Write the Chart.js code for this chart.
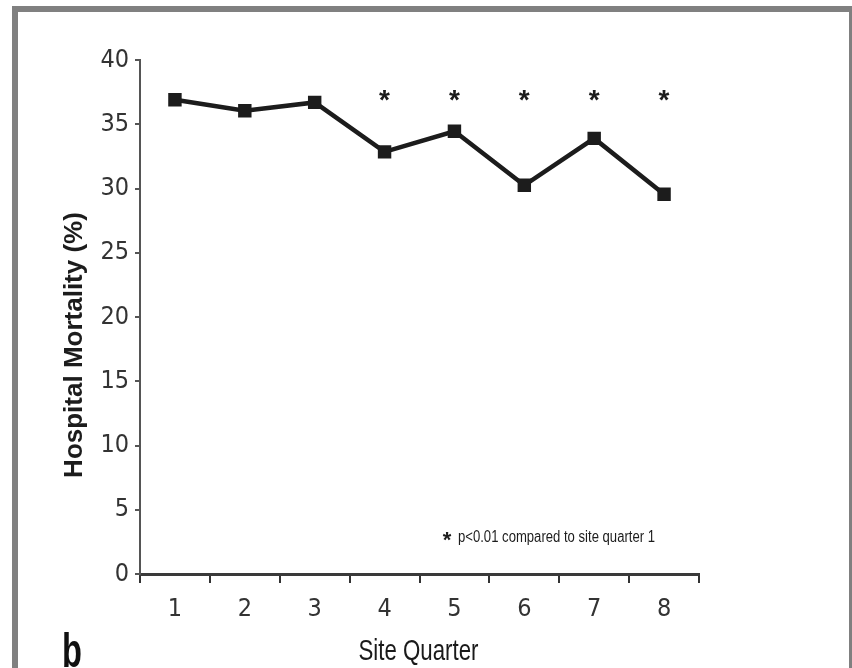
<!DOCTYPE html>
<html>
<head>
<meta charset="utf-8">
<script src="https://cdn.jsdelivr.net/npm/chart.js@4/dist/chart.umd.min.js"></script>
<style>
    html, body { margin: 0; padding: 0; background: #fff; }
    body { width: 852px; height: 668px; position: relative; overflow: hidden; }
    .frame {
        position: absolute; left: 12px; top: 6px; width: 831px; height: 700px;
        border-top: 6px solid #808080; border-left: 6px solid #808080; border-right: 3px solid #808080;
    }
    .wrap { position: absolute; left: 0; top: 0; width: 852px; height: 668px; }
    .panel {
        position: absolute; left: 62px; top: 623px; line-height: 1;
        font: bold 48px "Liberation Sans", Arial, sans-serif; color: #111;
        transform: scaleX(0.68); transform-origin: 0 0;
    }
</style>
</head>
<body>
<div class="frame"></div>
<div class="wrap"><canvas id="mortalityChart" width="852" height="668"></canvas></div>
<div class="panel">b</div>
<script>
// Data
const quarters = ['1', '2', '3', '4', '5', '6', '7', '8'];
const mortality = [36.9, 36.05, 36.7, 32.85, 34.45, 30.25, 33.9, 29.55];
const significant = [false, false, false, true, true, true, true, true];
const starLevel = 37.6;
const yTicks = [0, 5, 10, 15, 20, 25, 30, 35, 40];

const narrow = '"Liberation Sans Narrow", "DejaVu Sans Condensed", "Arial Narrow", sans-serif';
const arial = '"Liberation Sans", Arial, sans-serif';
const ink = '#1c1c1c';

// Asterisks, axis titles and the footnote
const annotations = {
    id: 'annotations',
    afterDatasetsDraw(chart) {
        const { ctx, scales: { x, y } } = chart;
        ctx.save();
        ctx.fillStyle = ink;
        ctx.textAlign = 'center';
        ctx.textBaseline = 'alphabetic';
        ctx.font = 'bold 28px ' + arial;
        significant.forEach((sig, i) => {
            if (sig) ctx.fillText('*', x.getPixelForValue(i), y.getPixelForValue(starLevel) + 18);
        });

        // footnote
        ctx.font = 'bold 22px ' + arial;
        ctx.fillText('*', 447, 547);
        ctx.textAlign = 'left';
        ctx.textBaseline = 'middle';
        ctx.font = '16px ' + arial;
        ctx.fillText('p<0.01 compared to site quarter 1', 458, 538, 197);

        // x title
        ctx.textAlign = 'center';
        ctx.textBaseline = 'alphabetic';
        ctx.fillStyle = '#1a1a1a';
        ctx.font = '30px ' + arial;
        ctx.fillText('Site Quarter', (x.left + x.right) / 2 - 1, 660, 120);

        // y title
        ctx.fillStyle = ink;
        ctx.translate(75, 345);
        ctx.rotate(-Math.PI / 2);
        ctx.textBaseline = 'middle';
        ctx.font = 'bold 26px ' + arial;
        ctx.fillText('Hospital Mortality (%)', 0, 0);
        ctx.restore();
    }
};

new Chart(document.getElementById('mortalityChart'), {
    type: 'line',
    data: {
        labels: quarters,
        datasets: [{
            data: mortality,
            borderColor: ink,
            backgroundColor: ink,
            borderWidth: 4.5,
            tension: 0,
            pointStyle: 'rect',
            pointRadius: 9.5,
            pointHoverRadius: 9.5,
            pointBorderWidth: 0
        }]
    },
    options: {
        responsive: false,
        animation: false,
        layout: { padding: { left: 0, right: 153, top: 60, bottom: 0 } },
        plugins: { legend: { display: false }, tooltip: { enabled: false } },
        scales: {
            x: {
                offset: true,
                grid: { offset: true, drawOnChartArea: false, tickLength: 9, color: '#333', lineWidth: 2 },
                border: { color: '#3a3a3a', width: 3 },
                ticks: { color: '#333', padding: 11, font: { family: narrow, size: 25 } },
                afterFit(scale) { scale.height = 94; }
            },
            y: {
                min: 0,
                max: 40,
                afterBuildTicks(scale) { scale.ticks = yTicks.map(v => ({ value: v })); },
                grid: { drawOnChartArea: false, tickLength: 5, color: '#555', lineWidth: 2 },
                border: { color: '#555', width: 2 },
                ticks: { color: '#333', padding: 6, font: { family: narrow, size: 25 } },
                afterFit(scale) { scale.width = 140; }
            }
        }
    },
    plugins: [annotations]
});
</script>
</body>
</html>
